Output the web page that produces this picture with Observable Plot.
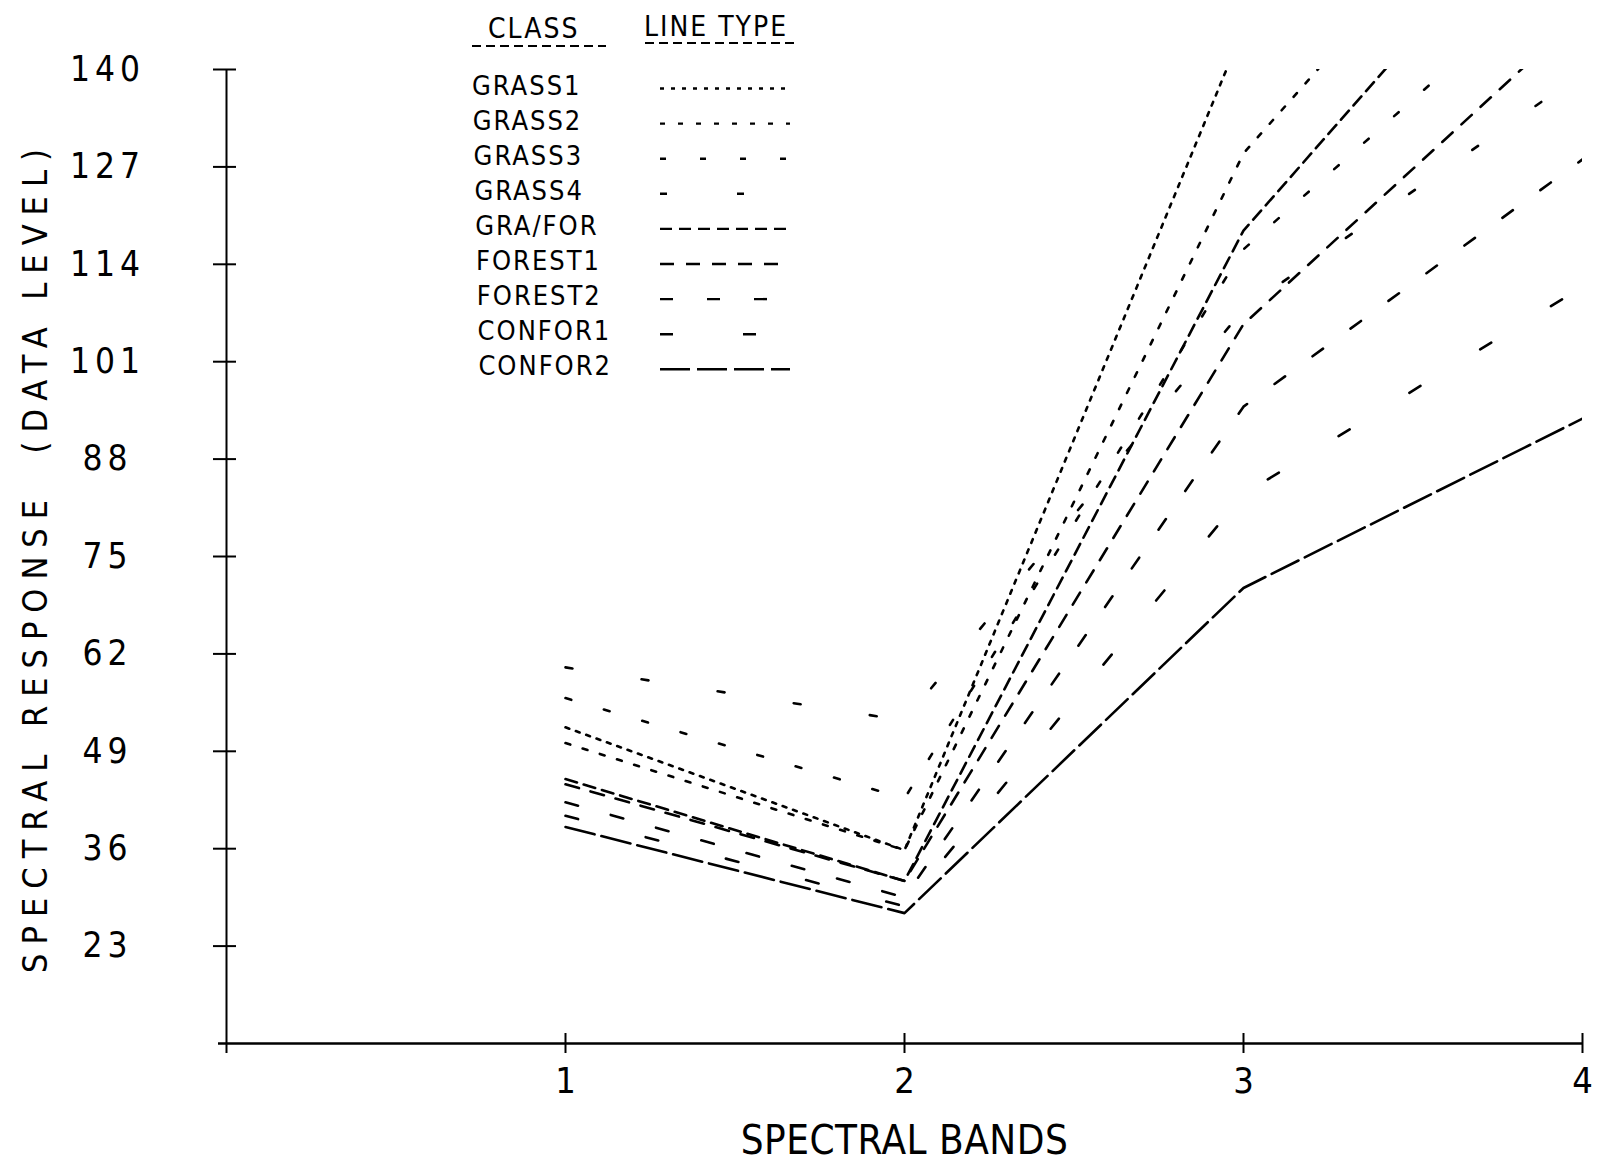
<!DOCTYPE html>
<html><head><meta charset="utf-8">
<script src="https://cdn.jsdelivr.net/npm/d3@7"></script>
<script src="https://cdn.jsdelivr.net/npm/@observablehq/plot@0.6"></script>
<style>
html,body{margin:0;padding:0;background:#fff;}
#wrap{position:relative;width:1600px;height:1161px;overflow:hidden;}
#wrap svg{position:absolute;left:0;top:0;}
svg text{font-family:"Liberation Sans Narrow","DejaVu Sans Condensed","DejaVu Sans",sans-serif;fill:#000;}
g[aria-label="y-axis tick label"] text{letter-spacing:5px;}
g[aria-label="y-axis label"] text{letter-spacing:9px;}
g[aria-label="x-axis label"] text{letter-spacing:0.5px;}
</style></head><body><div id="wrap"></div>
<script>
// ---- data ----
const bands = [1, 2, 3, 4];
const classes = ["GRASS1", "GRASS2", "GRASS3", "GRASS4", "GRA/FOR", "FOREST1", "FOREST2", "CONFOR1", "CONFOR2"];
const grass1  = [52.2, 35.8, 145.5, 190];
const grass2  = [50.1, 35.8, 128.8, 180];
const grass3  = [56.1, 42.7, 116.0, 156];
const grass4  = [60.2, 53.1, 108.0, 139.5];
const graFor  = [45.3, 31.7, 118.5, 170];
const forest1 = [44.6, 31.7, 106.0, 147.5];
const forest2 = [42.2, 29.5, 95.0, 128];
const confor1 = [40.4, 28.3, 83.3, 111];
const confor2 = [38.9, 27.4, 70.8, 93.4];
const seriesValues = [grass1, grass2, grass3, grass4, graFor, forest1, forest2, confor1, confor2];
const yTicks = [23, 36, 49, 62, 75, 88, 101, 114, 127, 140];
const xTicks = [1, 2, 3, 4];
const yDomain = [10, 140];
const xDomain = [0, 4];
const yTitle = "SPECTRAL RESPONSE\u00a0\u00a0(DATA LEVEL)";
const xTitle = "SPECTRAL BANDS";
const legendHeaders = ["CLASS", "LINE TYPE"];

// ---- styles ----
const dashes = ["4,7", "5,13", "6,34", "7,70", "12,7", "14,12", "13,34", "13,70", "30,7"];
const FONT = '"Liberation Sans Narrow","DejaVu Sans Condensed","DejaVu Sans",sans-serif';

const rows = classes.map((c, i) => bands.map((b, j) => ({cls: c, band: b, value: seriesValues[i][j]})));

const plot = Plot.plot({
  width: 1600, height: 1161,
  marginLeft: 226, marginRight: 18, marginTop: 69, marginBottom: 118,
  x: {domain: xDomain},
  y: {domain: yDomain},
  style: {fontFamily: FONT, fontSize: "34px", color: "#000", background: "#fff", overflow: "visible"},
  marks: [
    Plot.ruleX([xDomain[0]], {stroke: "#000", strokeWidth: 2, insetBottom: -10}),
    Plot.ruleY([yDomain[0]], {stroke: "#000", strokeWidth: 2.4, insetLeft: -8}),
    Plot.axisY({ticks: yTicks, tickSize: 23, dx: 10, tickPadding: 106, textAnchor: "middle",
      strokeWidth: 2, fontSize: 35, tickFormat: d => String(d),
      label: yTitle, labelAnchor: "center", labelOffset: 204, labelArrow: "none"}),
    Plot.axisX({ticks: xTicks, tickSize: 20, dy: -10, tickPadding: 14, strokeWidth: 2, fontSize: 36,
      tickFormat: d => String(d),
      label: xTitle, labelAnchor: "center", labelOffset: 110, labelArrow: "none"}),
    ...rows.map((r, i) => Plot.line(r, {x: "band", y: "value", stroke: "#000", strokeWidth: 2.6,
      strokeDasharray: dashes[i], clip: true}))
  ]
});
const wrap = document.getElementById("wrap");
wrap.appendChild(plot);
d3.select(plot).selectAll('g[aria-label="y-axis label"] text').style("font-size", "34px");
d3.select(plot).selectAll('g[aria-label="x-axis label"] text').style("font-size", "40px");

// ---- legend overlay ----
const leg = d3.select(wrap).append("svg").attr("width", 1600).attr("height", 1161);
const g = leg.append("g").style("font-family", FONT);
g.append("text").attr("x", 488).attr("y", 38).attr("font-size", 28).attr("letter-spacing", 2).text(legendHeaders[0]);
g.append("line").attr("x1", 472).attr("x2", 606).attr("y1", 46).attr("y2", 46).attr("stroke", "#000").attr("stroke-width", 1.8).attr("stroke-dasharray", "9,5");
g.append("text").attr("x", 644).attr("y", 36).attr("font-size", 28).attr("letter-spacing", 2).text(legendHeaders[1]);
g.append("line").attr("x1", 645).attr("x2", 796).attr("y1", 43).attr("y2", 43).attr("stroke", "#000").attr("stroke-width", 1.8).attr("stroke-dasharray", "9,5");
classes.forEach((c, i) => {
  const base = 94.5 + 35.1 * i;
  g.append("text").attr("x", 472 + i * 0.8).attr("y", base).attr("font-size", 27).attr("letter-spacing", 2).text(c);
  g.append("line").attr("x1", 660).attr("x2", 790).attr("y1", base - 6).attr("y2", base - 6)
    .attr("stroke", "#000").attr("stroke-width", 2.4).attr("stroke-dasharray", dashes[i]);
});
</script></body></html>
